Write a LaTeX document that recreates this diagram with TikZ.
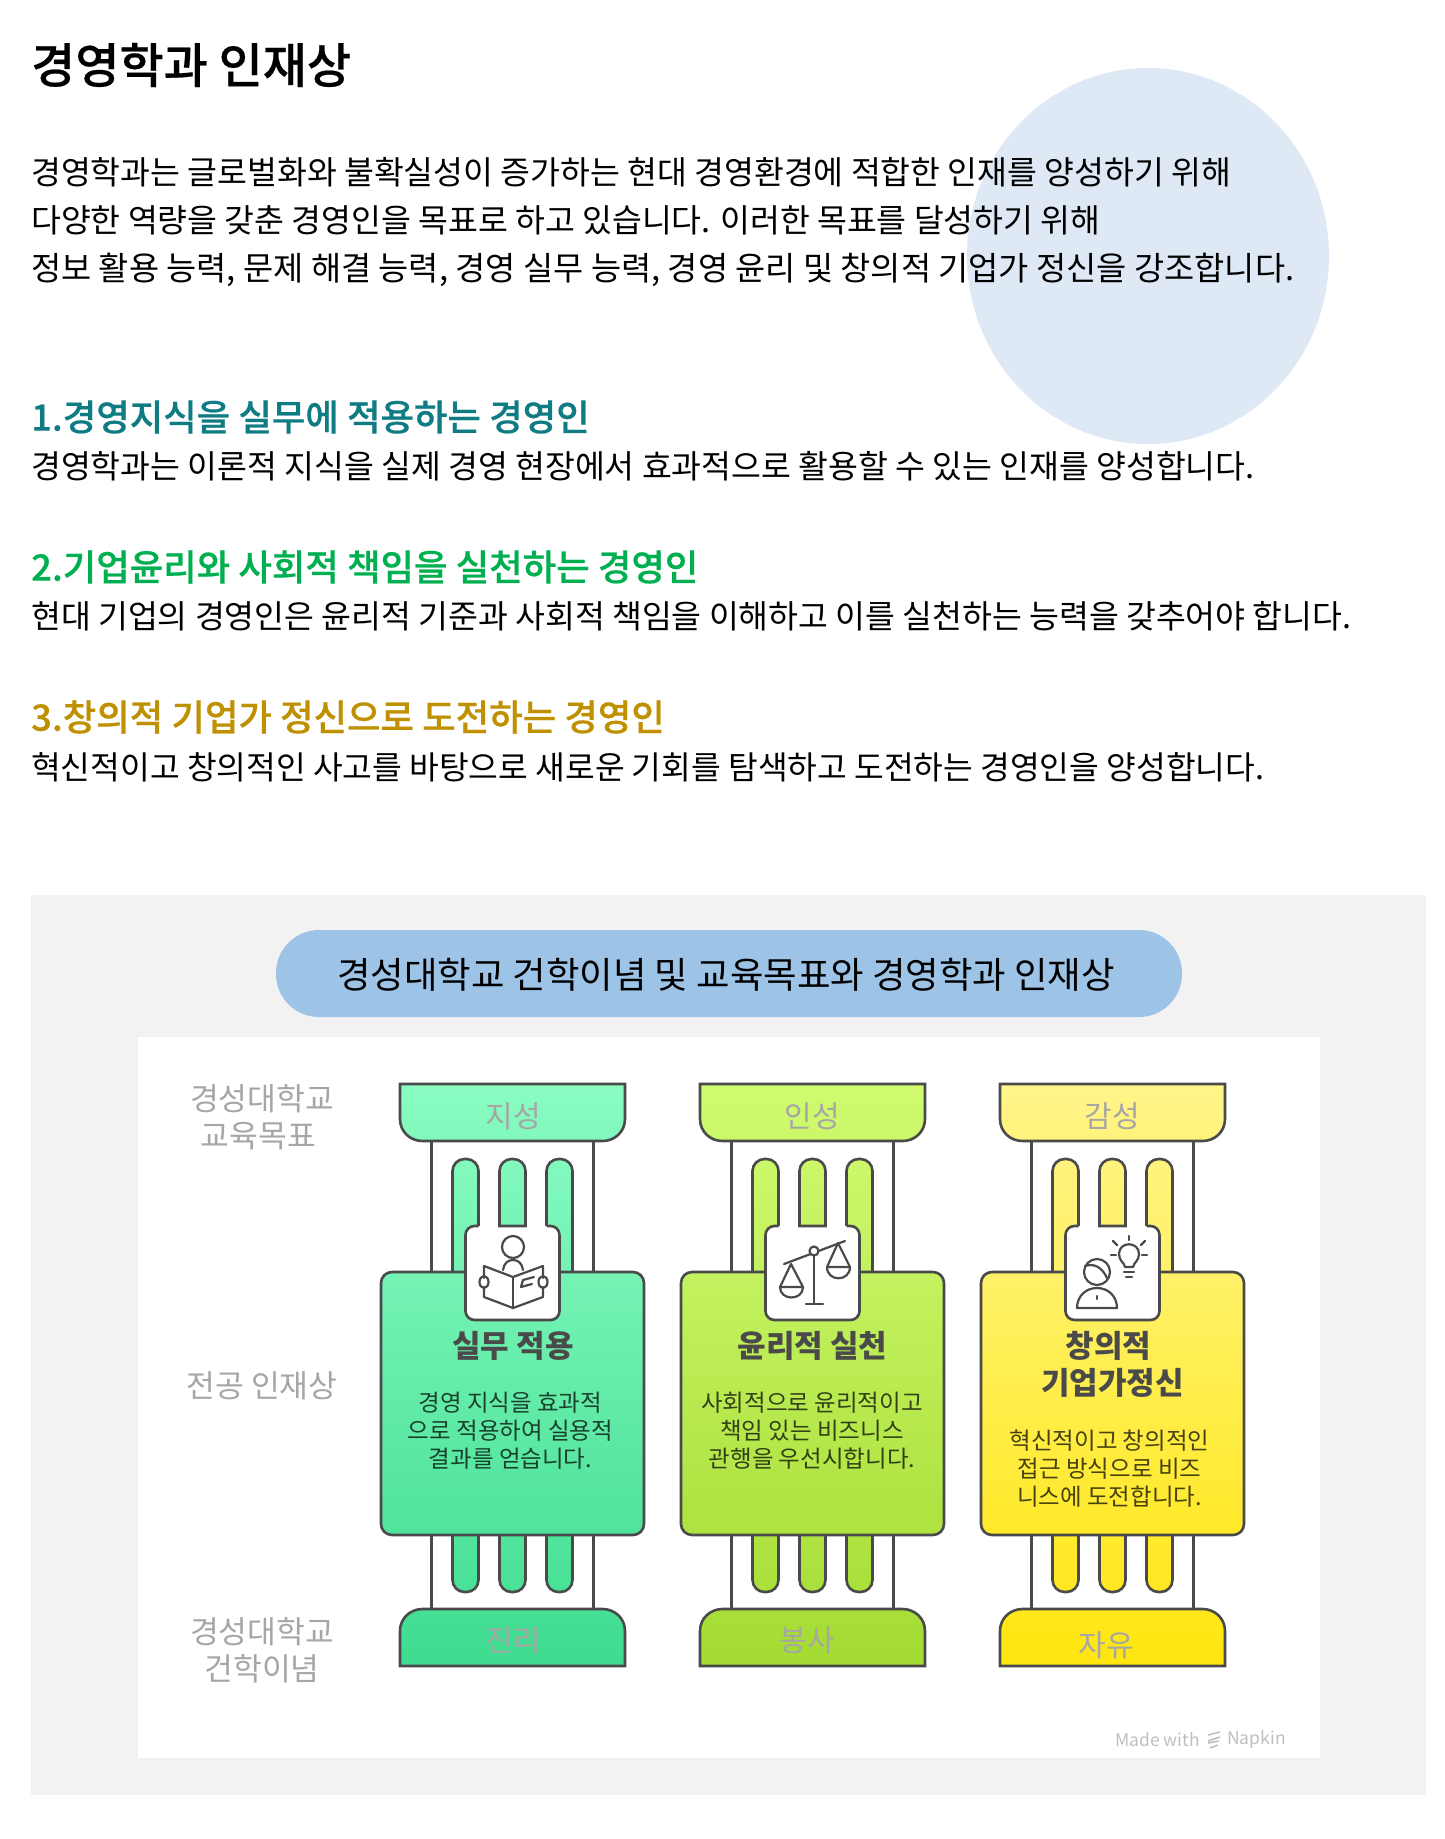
\documentclass[tikz,border=0pt]{standalone}
\usepackage{fontspec}
\setmainfont{Noto Sans CJK KR}
\newfontfamily\mediumFont[FakeBold=0.5]{Noto Sans CJK KR Medium}
\usetikzlibrary{positioning}
\definecolor{lineGray}{HTML}{4A4A4A}
\definecolor{labelGray}{HTML}{A6A6A6}
\tikzset{
    pageTitle/.style={anchor=west,inner sep=0pt,font=\fontsize{48}{56}\selectfont\mediumFont},
    bodyLine/.style={anchor=west,inner sep=0pt,font=\fontsize{32.45}{38}\selectfont},
    headLine/.style={anchor=west,inner sep=0pt,font=\fontsize{36.4}{44}\selectfont\mediumFont},
    sideLabel/.style={labelGray,align=center,inner sep=0pt,font=\fontsize{31.3}{37}\selectfont},
    capLabel/.style={labelGray,inner sep=0pt,font=\fontsize{30}{36}\selectfont},
    cardTitle/.style={lineGray,align=center,inner sep=0pt,font=\fontsize{31}{37}\selectfont\bfseries},
    cardText/.style={black,text opacity=0.72,align=center,inner sep=0pt,font=\fontsize{23.5}{28}\selectfont},
    creditText/.style={anchor=east,inner sep=0pt,text={rgb,255:red,191;green,191;blue,191},font=\fontsize{17.5}{20}\selectfont},
    pillarLine/.style={draw=lineGray,line width=2.6pt},
    iconLine/.style={draw=lineGray,line width=2.2pt,line cap=round,line join=round}
}
% #1 centre x, #2 top colour, #3 bottom colour
\newcommand{\pillarBody}[3] {
	\colorlet{pilTop}{#2}
	\colorlet{pilBot}{#3}
	\draw[pillarLine] (#1-81,1141) -- (#1-81,1272);
	\draw[pillarLine] (#1+81,1141) -- (#1+81,1272);
	\draw[pillarLine] (#1-81,1535) -- (#1-81,1609);
	\draw[pillarLine] (#1+81,1535) -- (#1+81,1609);
	% capital and base
	\draw[pillarLine,top color=pilTop,bottom color=pilTop!88!pilBot] (#1-112.5,1084) -- (#1+112.5,1084) -- (#1+112.5,1119) .. controls (#1+112.5,1132) and (#1+102,1141) .. (#1+90,1141) -- (#1-90,1141) .. controls (#1-102,1141) and (#1-112.5,1132) .. (#1-112.5,1119) -- cycle;
	\draw[pillarLine,top color=pilTop!10!pilBot,bottom color=pilBot] (#1-112.5,1666) -- (#1+112.5,1666) -- (#1+112.5,1631) .. controls (#1+112.5,1618) and (#1+102,1609) .. (#1+90,1609) -- (#1-90,1609) .. controls (#1-102,1609) and (#1-112.5,1618) .. (#1-112.5,1631) -- cycle;
	% flutes above the card
	\draw[pillarLine,top color=pilTop!90!pilBot,bottom color=pilTop!72!pilBot] (#1-60,1272) [rounded corners=12pt] -- (#1-60,1159) -- (#1-34,1159) [sharp corners] -- (#1-34,1272);
	\draw[pillarLine,top color=pilTop!90!pilBot,bottom color=pilTop!72!pilBot] (#1+34,1272) [rounded corners=12pt] -- (#1+34,1159) -- (#1+60,1159) [sharp corners] -- (#1+60,1272);
	% flutes below the card
	\foreach \fluteX in {-47,0,47} {
		\draw[pillarLine,top color=pilTop!25!pilBot,bottom color=pilTop!14!pilBot] (#1+\fluteX-13,1535) [rounded corners=12pt] -- (#1+\fluteX-13,1592) -- (#1+\fluteX+13,1592) [sharp corners] -- (#1+\fluteX+13,1535);
	}
	% card
	\draw[pillarLine,rounded corners=11pt,top color=pilTop!72!pilBot,bottom color=pilTop!22!pilBot] (#1-131.5,1272) rectangle (#1+131.5,1535);
	% icon plate
	\fill[white,rounded corners=9pt] (#1-47,1226) rectangle (#1+47,1320);
	\draw[pillarLine] (#1-34,1226) [rounded corners=9pt] -- (#1-47,1226) -- (#1-47,1320) -- (#1+47,1320) -- (#1+47,1226) [sharp corners] -- (#1+34,1226);
	\draw[pillarLine,top color=pilTop!90!pilBot,bottom color=pilTop!75!pilBot] (#1-13,1226) [rounded corners=12pt] -- (#1-13,1159) -- (#1+13,1159) [sharp corners] -- (#1+13,1226) -- cycle;
}
\begin{document}
\begin{tikzpicture}[x=1pt,y=-1pt]
	\useasboundingbox (0,0) rectangle (1444,1839);
	\fill[white] (0,0) rectangle (1444,1839);
	\fill[fill={rgb,255:red,222;green,233;blue,245}] (1148,256) ellipse [x radius=181,y radius=188];

	% upper text
	\node[pageTitle] (title) at (31,65) {경영학과 인재상};
	\node[bodyLine] (introA) at (31,172) {경영학과는 글로벌화와 불확실성이 증가하는 현대 경영환경에 적합한 인재를 양성하기 위해};
	\node[bodyLine] (introB) at (31,220) {다양한 역량을 갖춘 경영인을 목표로 하고 있습니다. 이러한 목표를 달성하기 위해};
	\node[bodyLine,font=\fontsize{32.8}{38}\selectfont] (introC) at (31,270) {정보 활용 능력, 문제 해결 능력, 경영 실무 능력, 경영 윤리 및 창의적 기업가 정신을 강조합니다.};

	\node[headLine,text={rgb,255:red,15;green,124;blue,132}] (headA) at (31,417) {1.경영지식을 실무에 적용하는 경영인};
	\node[bodyLine] (bodyA) at (31,466) {경영학과는 이론적 지식을 실제 경영 현장에서 효과적으로 활용할 수 있는 인재를 양성합니다.};
	\node[headLine,text={rgb,255:red,0;green,176;blue,80}] (headB) at (31,567) {2.기업윤리와 사회적 책임을 실천하는 경영인};
	\node[bodyLine] (bodyB) at (31,616) {현대 기업의 경영인은 윤리적 기준과 사회적 책임을 이해하고 이를 실천하는 능력을 갖추어야 합니다.};
	\node[headLine,text={rgb,255:red,191;green,144;blue,0}] (headC) at (31,717) {3.창의적 기업가 정신으로 도전하는 경영인};
	\node[bodyLine,font=\fontsize{32.3}{38}\selectfont] (bodyC) at (31,767) {혁신적이고 창의적인 사고를 바탕으로 새로운 기회를 탐색하고 도전하는 경영인을 양성합니다.};

	% panel
	\fill[fill={rgb,255:red,242;green,242;blue,242}] (31,895) rectangle (1426,1795);
	\fill[white] (138,1037) rectangle (1320,1758);
	\fill[fill={rgb,255:red,157;green,195;blue,230},rounded corners=43pt] (276,930) rectangle (1182,1017);
	\node[inner sep=0pt,font=\fontsize{36.4}{44}\selectfont] (banner) at (726,975) {경성대학교 건학이념 및 교육목표와 경영학과 인재상};

	% side labels
	\node[sideLabel] (goalLabel) at (262,1117) {경성대학교\\교육목표\hspace*{7pt}};
	\node[sideLabel] (majorLabel) at (262,1386) {전공 인재상};
	\node[sideLabel] (ideaLabel) at (262,1650) {경성대학교\\건학이념};

	% pillars
	\pillarBody{512.5}{rgb,255:red,138;green,252;blue,194}{rgb,255:red,62;green,220;blue,144}
	\pillarBody{812.5}{rgb,255:red,208;green,251;blue,112}{rgb,255:red,163;green,219;blue,50}
	\pillarBody{1112.5}{rgb,255:red,255;green,245;blue,138}{rgb,255:red,255;green,230;blue,15}

	% labels on capitals and bases
	\node[capLabel] (capA) at (513,1116) {지성};
	\node[capLabel] (capB) at (812,1116) {인성};
	\node[capLabel] (capC) at (1112,1116) {감성};
	\node[capLabel] (baseA) at (513,1640) {진리};
	\node[capLabel] (baseB) at (807,1640) {봉사};
	\node[capLabel] (baseC) at (1106,1645) {자유};

	% card texts
	\node[cardTitle] (titleA) at (513,1346) {실무 적용};
	\node[cardText] (textA) at (510.5,1431) {경영 지식을 효과적\\으로 적용하여 실용적\\결과를 얻습니다.};
	\node[cardTitle] (titleB) at (812.5,1346) {윤리적 실천};
	\node[cardText] (textB) at (812,1431) {사회적으로 윤리적이고\\책임 있는 비즈니스\\관행을 우선시합니다.};
	\node[cardTitle] (titleC) at (1112.5,1364) {창의적\hspace*{8pt}\\기업가정신};
	\node[cardText] (textC) at (1109.5,1469) {혁신적이고 창의적인\\접근 방식으로 비즈\\니스에 도전합니다.};

	% reader icon
	\draw[iconLine] (513,1247) circle [radius=11];
	\draw[iconLine] (503,1270) .. controls (504,1263) and (508,1260) .. (513,1260) .. controls (518,1260) and (522,1263) .. (523,1270);
	\draw[iconLine] (513,1277) -- (513,1308);
	\draw[iconLine] (484,1278) -- (484,1266) -- (513,1277) -- (543,1266) -- (543,1278);
	\draw[iconLine] (484,1287) -- (484,1297) -- (513,1308) -- (543,1297) -- (543,1287);
	\draw[iconLine] (484,1282) circle [x radius=4.5,y radius=6];
	\draw[iconLine] (543,1282) circle [x radius=4.5,y radius=6];
	\draw[iconLine] (534,1277) -- (523,1280) -- (521,1287) -- (532,1284);

	% scale icon
	\draw[iconLine] (784,1264) -- (845,1241);
	\fill[white] (814,1251) circle [radius=4.5];
	\draw[iconLine] (814,1251) circle [radius=4.5];
	\draw[iconLine] (814,1256) -- (814,1304);
	\draw[iconLine] (806,1304) -- (823,1304);
	\draw[iconLine] (780,1287) -- (791,1264) -- (803,1287);
	\draw[iconLine] (780,1287) -- (803,1287) .. controls (803,1301) and (780,1301) .. (780,1287);
	\draw[iconLine] (827,1267) -- (838,1243) -- (850,1267);
	\draw[iconLine] (827,1267) -- (850,1267) .. controls (850,1282) and (827,1282) .. (827,1267);

	% idea icon
	\draw[iconLine] (1097,1272) circle [radius=13];
	\draw[iconLine] (1085,1266) .. controls (1094,1263) and (1102,1267) .. (1107,1278);
	\draw[iconLine] (1077,1308) .. controls (1077,1296) and (1086,1288) .. (1097,1288) .. controls (1108,1288) and (1117,1296) .. (1117,1308) -- cycle;
	\draw[iconLine] (1097,1296) -- (1097,1299);
	\draw[iconLine] (1125,1267) .. controls (1124,1262) and (1119,1261) .. (1119,1254) .. controls (1119,1241) and (1139,1241) .. (1139,1254) .. controls (1139,1261) and (1134,1262) .. (1133,1267) -- cycle;
	\draw[iconLine] (1124,1272) -- (1134,1272);
	\draw[iconLine] (1126,1277) -- (1132,1277);
	\draw[iconLine] (1129,1236) -- (1129,1240);
	\draw[iconLine] (1111,1255) -- (1116,1255);
	\draw[iconLine] (1142,1255) -- (1147,1255);
	\draw[iconLine] (1113,1241) -- (1117,1245);
	\draw[iconLine] (1145,1241) -- (1141,1245);

	% credit
	\node[creditText] (creditR) at (1286,1740) {Napkin};
	\node[creditText] (creditL) at (1200,1740) {Made with};
	\draw[line width=1.6pt,draw={rgb,255:red,191;green,191;blue,191}] (1208,1735) -- (1220,1732) (1208,1741) -- (1220,1737) (1208,1743) -- (1219,1741) (1210,1748) -- (1218,1745);
\end{tikzpicture}
\end{document}
